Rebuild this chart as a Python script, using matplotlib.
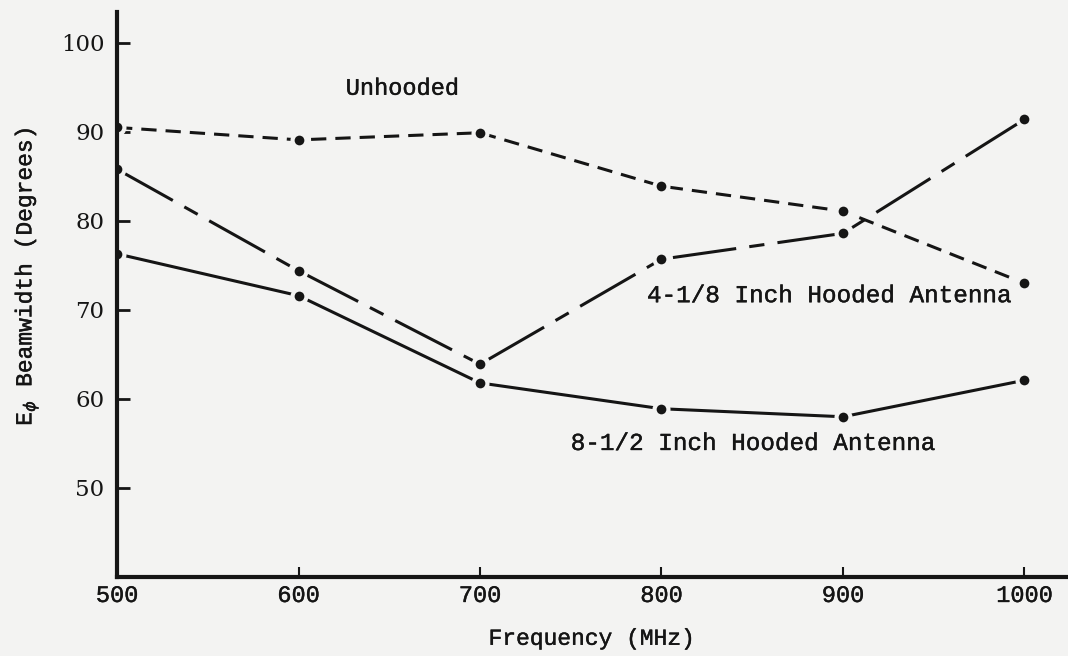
import matplotlib
matplotlib.use("Agg")
import matplotlib.pyplot as plt
import matplotlib.patheffects as pe

# beamwidth vs frequency for the three antenna configurations
freq = [500, 600, 700, 800, 900, 1000]
unhooded = [90.5, 89.1, 89.9, 83.9, 81.1, 73.0]
hood_4_1_8 = [85.8, 74.4, 63.9, 75.7, 78.6, 91.4]
hood_8_1_2 = [76.3, 71.6, 61.8, 58.9, 58.0, 62.1]

x_ticks = [500, 600, 700, 800, 900, 1000]
y_ticks = [50, 60, 70, 80, 90, 100]

bg = "#f3f3f2"
ink = "#151515"
mono = "Liberation Mono"
heavier = [pe.withStroke(linewidth=0.3, foreground=ink)]

plt.rcParams["lines.scale_dashes"] = False

fig = plt.figure(figsize=(10.68, 6.56), dpi=100, facecolor=bg)
ax = fig.add_axes([0.1096, 0.1204, 0.8904, 0.8618], facecolor=bg)

# lines first, markers on top with a background-coloured halo
ax.plot(freq, unhooded, color=ink, lw=2.2, dashes=(11, 6.5))
ax.plot(freq, hood_4_1_8, color=ink, lw=2.2, dashes=(46, 9.5, 11, 9.5))
ax.plot(freq, hood_8_1_2, color=ink, lw=2.2)

for series in (unhooded, hood_4_1_8, hood_8_1_2):
    ax.plot(freq, series, ls="none", marker="o", ms=13, mfc=bg, mec="none", zorder=3)
for series in (unhooded, hood_4_1_8, hood_8_1_2):
    ax.plot(freq, series, ls="none", marker="o", ms=7, mfc=ink, mec="none", zorder=4)

ax.set_xlim(500, 1024)
ax.set_ylim(40, 103.5)

for side in ("top", "right"):
    ax.spines[side].set_visible(False)
for side in ("left", "bottom"):
    ax.spines[side].set_linewidth(3)
    ax.spines[side].set_color(ink)
    ax.spines[side].set_zorder(5)

ax.set_xticks(x_ticks)
ax.set_yticks(y_ticks)
ax.tick_params(axis="y", direction="in", length=9, width=2, color=ink, pad=9,
               labelsize=16.5, labelcolor=ink)
ax.tick_params(axis="x", direction="in", length=7, width=1.5, color=ink, pad=5,
               labelsize=17, labelcolor=ink)
for lab in ax.get_yticklabels():
    lab.set_family("DejaVu Serif")
for lab in ax.get_xticklabels():
    lab.set_family(mono)
    lab.set_path_effects(heavier)

# curve labels
label_kw = dict(family=mono, color=ink, va="center", path_effects=heavier)
ax.text(626, 94.9, "Unhooded", fontsize=17, **label_kw)
ax.text(792, 71.6, "4-1/8 Inch Hooded Antenna", fontsize=17.5, **label_kw)
ax.text(750, 55.0, "8-1/2 Inch Hooded Antenna", fontsize=17.5, **label_kw)

fig.text(0.0245, 0.578, r"E$_\phi$ Beamwidth (Degrees)", fontsize=16.5,
         rotation=90, ha="center", **label_kw)
fig.text(0.554, 0.027, "Frequency (MHz)", fontsize=16.5, ha="center", **label_kw)

fig.savefig("out.png", dpi=100, facecolor=bg)
